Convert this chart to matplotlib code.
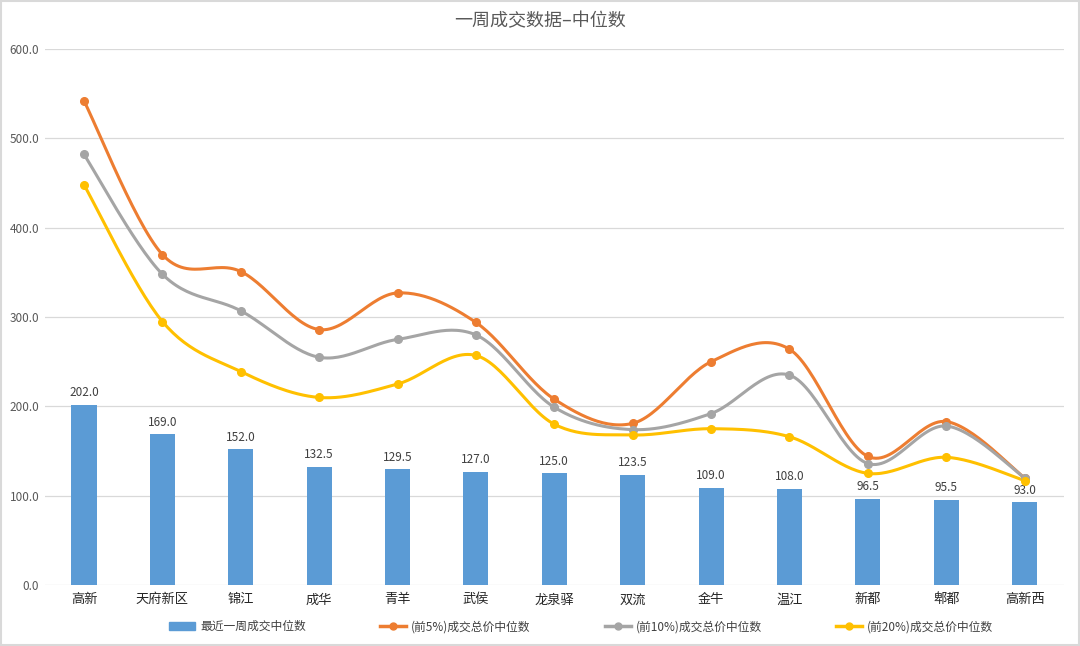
import numpy as np
import matplotlib.pyplot as plt
from matplotlib.patches import Rectangle
from matplotlib.lines import Line2D

plt.rcParams['font.family'] = ['Noto Sans CJK SC', 'DejaVu Sans']

districts = ["高新", "天府新区", "锦江", "成华", "青羊", "武侯", "龙泉驿",
             "双流", "金牛", "温江", "新都", "郫都", "高新西"]
week_median = [202.0, 169.0, 152.0, 132.5, 129.5, 127.0, 125.0,
               123.5, 109.0, 108.0, 96.5, 95.5, 93.0]
top5 = [542, 370, 351, 286, 327, 294, 208, 181, 250, 264, 144, 183, 120]
top10 = [482, 348, 307, 255, 275, 280, 199, 174, 192, 235, 136, 178, 120]
top20 = [448, 295, 239, 210, 225, 257, 180, 168, 175, 166, 125, 143, 117]

series = [
    ("(前5%)成交总价中位数", top5, "#ED7D31"),
    ("(前10%)成交总价中位数", top10, "#A5A5A5"),
    ("(前20%)成交总价中位数", top20, "#FFC000"),
]


def smooth(xs, ys, n=30):
    # Excel-style smoothed line (Catmull-Rom through the points)
    xs = np.asarray(xs, float)
    ys = np.asarray(ys, float)
    px = np.concatenate([[xs[0]], xs, [xs[-1]]])
    py = np.concatenate([[ys[0]], ys, [ys[-1]]])
    outx, outy = [], []
    t = np.linspace(0, 1, n)
    for i in range(1, len(px) - 2):
        x0, x1, x2, x3 = px[i - 1:i + 3]
        y0, y1, y2, y3 = py[i - 1:i + 3]
        c1x, c1y = x1 + (x2 - x0) / 6, y1 + (y2 - y0) / 6
        c2x, c2y = x2 - (x3 - x1) / 6, y2 - (y3 - y1) / 6
        bx = (1 - t) ** 3 * x1 + 3 * (1 - t) ** 2 * t * c1x + 3 * (1 - t) * t ** 2 * c2x + t ** 3 * x2
        by = (1 - t) ** 3 * y1 + 3 * (1 - t) ** 2 * t * c1y + 3 * (1 - t) * t ** 2 * c2y + t ** 3 * y2
        outx.extend(bx)
        outy.extend(by)
    return outx, outy


fig = plt.figure(figsize=(10.8, 6.46), dpi=100)
ax = fig.add_axes([0.0415, 0.0944, 0.9435, 0.8296])

x = np.arange(len(districts))
bars = ax.bar(x, week_median, width=0.32, color="#5B9BD5", zorder=2)
for xi, v in zip(x, week_median):
    ax.text(xi, v + 6, f"{v:.1f}", ha="center", va="bottom", fontsize=8.5, color="#404040")

handles = [Rectangle((0, 0), 1, 1, color="#5B9BD5")]
labels = ["最近一周成交中位数"]
for name, vals, col in series:
    sx, sy = smooth(x, vals)
    ax.plot(sx, sy, color=col, lw=2.2, zorder=3)
    ax.plot(x, vals, "o", color=col, ms=5.5, zorder=4)
    handles.append(Line2D([], [], color=col, lw=2.5, marker="o", ms=5))
    labels.append(name)

ax.set_xlim(-0.5, len(districts) - 0.5)
ax.set_ylim(0, 600)
ax.set_yticks(np.arange(0, 601, 100))
ax.set_yticklabels([f"{v:.1f}" for v in np.arange(0, 601, 100)])
ax.set_xticks(x)
ax.set_xticklabels(districts)
ax.tick_params(axis="y", length=0, labelsize=8.5, labelcolor="#595959", pad=4)
ax.tick_params(axis="x", length=0, labelsize=9.5, labelcolor="#262626", pad=6)
ax.grid(axis="y", color="#D9D9D9", lw=0.9, zorder=0)
for s in ax.spines.values():
    s.set_visible(False)

fig.text(0.5, 0.968, "一周成交数据–中位数", ha="center", va="center",
         fontsize=13, color="#595959")

fig.legend(handles, labels, loc="center", bbox_to_anchor=(0.538, 0.03), ncol=4,
           frameon=False, fontsize=8.5, columnspacing=6.3, handlelength=2.2,
           handletextpad=0.4, labelcolor="#404040")

fig.add_artist(Rectangle((0.001, 0.001), 0.998, 0.998, transform=fig.transFigure,
                         fill=False, edgecolor="#D9D9D9", lw=1.5))

fig.savefig("out.png", dpi=100)
